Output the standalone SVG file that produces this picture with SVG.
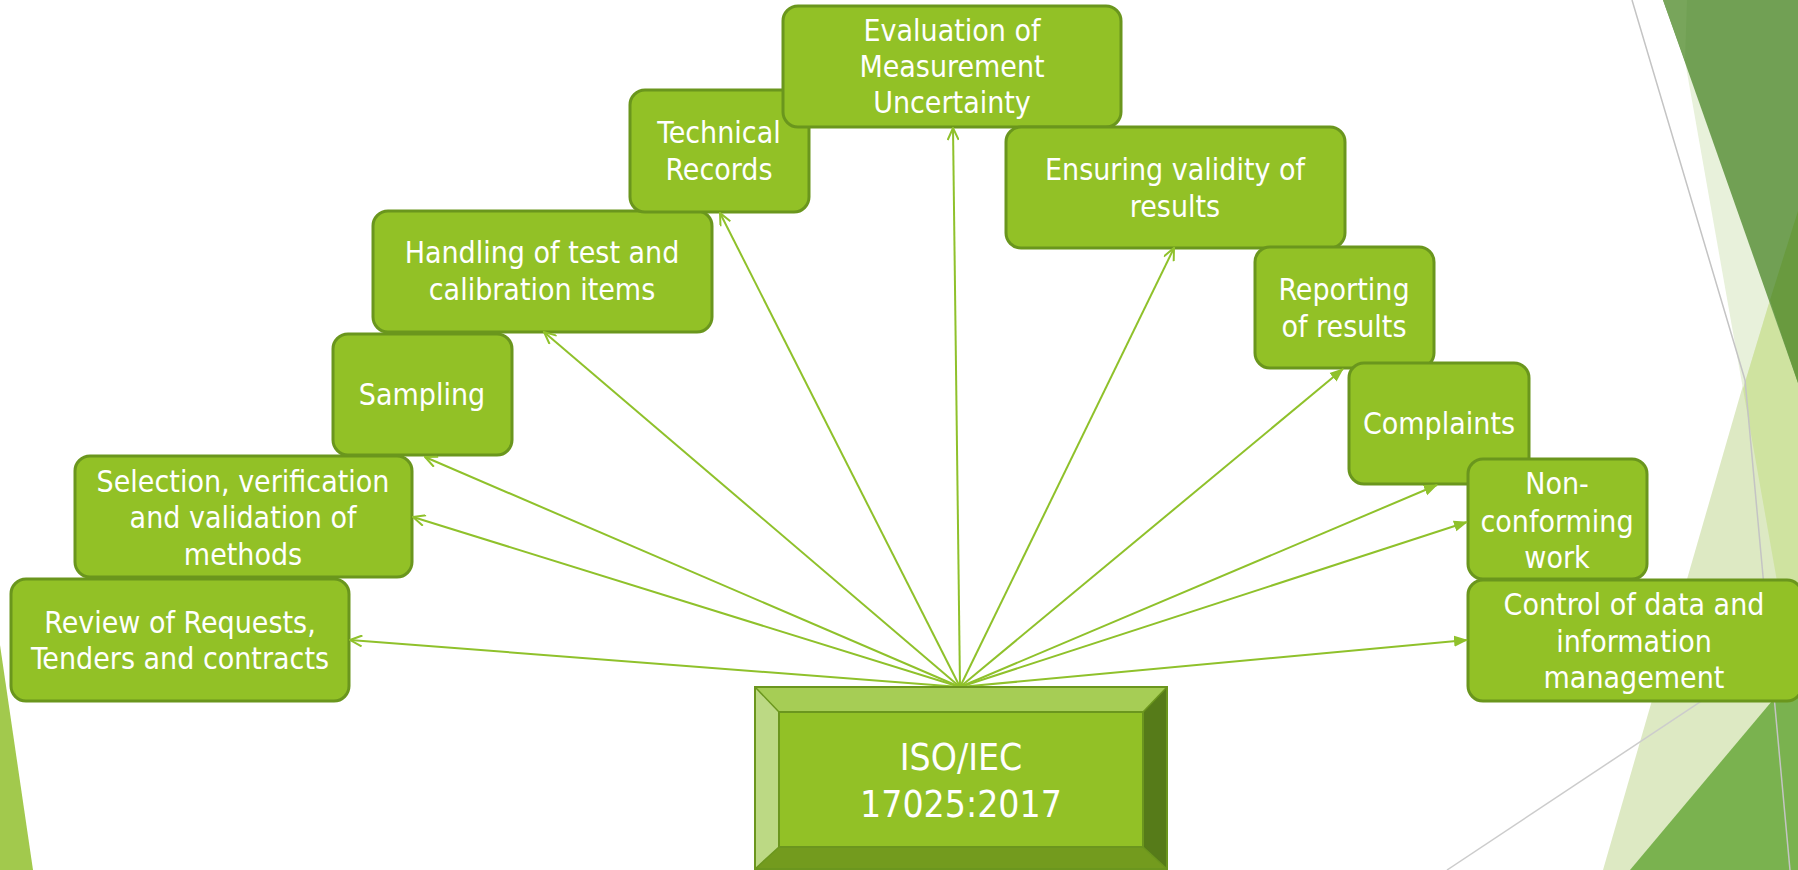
<svg xmlns="http://www.w3.org/2000/svg" width="1798" height="870" viewBox="0 0 1798 870">
  <style>
    .box { fill: #92c126; stroke: #6a961d; stroke-width: 3; }
    .lbl { font-family: "DejaVu Sans Condensed", "DejaVu Sans", sans-serif; font-size: 30px; fill: #ffffff; text-anchor: middle; }
    .hub { font-family: "DejaVu Sans Condensed", "DejaVu Sans", sans-serif; font-size: 37px; fill: #ffffff; text-anchor: middle; }
    .link { stroke: #8fc12b; stroke-width: 2; fill: none; }
    .open { marker-end: url(#arrowOpen); }
    .solid { marker-end: url(#arrowSolid); }
  </style>
  <defs>
    <marker id="arrowOpen" viewBox="0 0 14 12" refX="13" refY="6" markerWidth="14" markerHeight="12" markerUnits="userSpaceOnUse" orient="auto">
      <path d="M1,0.5 L13,6 L1,11.5" fill="none" stroke="#8fc12b" stroke-width="2"/>
    </marker>
    <marker id="arrowSolid" viewBox="0 0 14 12" refX="13" refY="6" markerWidth="14" markerHeight="12" markerUnits="userSpaceOnUse" orient="auto">
      <path d="M0,0.5 L14,6 L0,11.5 Z" fill="#8fc12b"/>
    </marker>
  </defs>

  <rect x="0" y="0" width="1798" height="870" fill="#ffffff"/>

  <!-- facet decoration, right edge -->
  <g id="decor-right">
    <!-- broad pale facet -->
    <polygon points="1798,195 1798,870 1603,870" fill="#dde9c3"/>
    <!-- narrow pale facet and its overlap with the broad one -->
    <polygon points="1685,61 1770,300 1743,389" fill="#e8f1db"/>
    <polygon points="1743,389 1770,300 1798,383 1798,700" fill="#cfe3a0"/>
    <!-- dark facet -->
    <polygon points="1663,0 1798,0 1798,383" fill="#71a054"/>
    <polygon points="1663,0 1687,0 1685,61" fill="#78a55b"/>
    <polygon points="1798,211 1770,300 1798,383" fill="#699a3f"/>
    <!-- medium facet, bottom corner -->
    <polygon points="1798,670 1798,870 1630,870" fill="#7ab24f"/>
    <polyline points="1632,0 1745,380 1790,870" fill="none" stroke="#c4c4c4" stroke-width="1.5"/>
    <line x1="1447" y1="870" x2="1798" y2="637" stroke="#cccccc" stroke-width="1.5"/>
  </g>

  <!-- facet decoration, left edge -->
  <polygon id="decor-left" points="0,645 33,870 0,870" fill="#a2c94d"/>

  <!-- clause boxes -->
  <g id="review">
    <rect class="box" x="11" y="579" width="338" height="122" rx="15"/>
    <text class="lbl" x="180" y="633">Review of Requests,</text>
    <text class="lbl" x="180" y="669">Tenders and contracts</text>
  </g>
  <g id="selection">
    <rect class="box" x="75" y="456" width="337" height="121" rx="15"/>
    <text class="lbl" x="243" y="492">Selection, verification</text>
    <text class="lbl" x="243" y="528">and validation of</text>
    <text class="lbl" x="243" y="565">methods</text>
  </g>
  <g id="sampling">
    <rect class="box" x="333" y="334" width="179" height="121" rx="15"/>
    <text class="lbl" x="422" y="405">Sampling</text>
  </g>
  <g id="handling">
    <rect class="box" x="373" y="211" width="339" height="121" rx="15"/>
    <text class="lbl" x="542" y="263">Handling of test and</text>
    <text class="lbl" x="542" y="300">calibration items</text>
  </g>
  <g id="technical-records">
    <rect class="box" x="630" y="90" width="179" height="122" rx="15"/>
    <text class="lbl" x="719" y="143">Technical</text>
    <text class="lbl" x="719" y="180">Records</text>
  </g>
  <g id="uncertainty">
    <rect class="box" x="783" y="6" width="338" height="121" rx="15"/>
    <text class="lbl" x="952" y="41">Evaluation of</text>
    <text class="lbl" x="952" y="77">Measurement</text>
    <text class="lbl" x="952" y="113">Uncertainty</text>
  </g>
  <g id="validity">
    <rect class="box" x="1006" y="127" width="339" height="121" rx="15"/>
    <text class="lbl" x="1175" y="180">Ensuring validity of</text>
    <text class="lbl" x="1175" y="217">results</text>
  </g>
  <g id="reporting">
    <rect class="box" x="1255" y="247" width="179" height="121" rx="15"/>
    <text class="lbl" x="1344" y="300">Reporting</text>
    <text class="lbl" x="1344" y="337">of results</text>
  </g>
  <g id="complaints">
    <rect class="box" x="1349" y="363" width="180" height="121" rx="15"/>
    <text class="lbl" x="1439" y="434">Complaints</text>
  </g>
  <g id="nonconforming">
    <rect class="box" x="1468" y="459" width="179" height="120" rx="15"/>
    <text class="lbl" x="1557" y="494">Non-</text>
    <text class="lbl" x="1557" y="532">conforming</text>
    <text class="lbl" x="1557" y="568">work</text>
  </g>
  <g id="data-control">
    <rect class="box" x="1468" y="580" width="334" height="121" rx="15"/>
    <text class="lbl" x="1634" y="615">Control of data and</text>
    <text class="lbl" x="1634" y="652">information</text>
    <text class="lbl" x="1634" y="688">management</text>
  </g>

  <!-- connectors from the standard to each clause -->
  <g id="connectors">
    <line class="link open" x1="960" y1="687" x2="350" y2="640"/>
    <line class="link open" x1="960" y1="687" x2="413" y2="517"/>
    <line class="link open" x1="960" y1="687" x2="425" y2="457"/>
    <line class="link open" x1="960" y1="687" x2="544" y2="332"/>
    <line class="link open" x1="960" y1="687" x2="720" y2="213"/>
    <line class="link open" x1="960" y1="687" x2="953" y2="128"/>
    <line class="link open" x1="960" y1="687" x2="1174" y2="248"/>
    <line class="link solid" x1="960" y1="687" x2="1343" y2="369"/>
    <line class="link solid" x1="960" y1="687" x2="1437" y2="485"/>
    <line class="link solid" x1="960" y1="687" x2="1467" y2="522"/>
    <line class="link solid" x1="960" y1="687" x2="1467" y2="640"/>
  </g>

  <!-- bevelled hub -->
  <g id="standard">
    <rect x="755" y="687" width="412" height="182" fill="#92c126"/>
    <polygon points="755,687 1167,687 1143,712 779,712" fill="#a6cd55"/>
    <polygon points="755,687 779,712 779,847 755,869" fill="#bcd984"/>
    <polygon points="1167,687 1167,869 1143,847 1143,712" fill="#567b19"/>
    <polygon points="755,869 1167,869 1143,847 779,847" fill="#739b1e"/>
    <rect x="779" y="712" width="364" height="135" fill="none" stroke="#6b961e" stroke-width="2"/>
    <rect x="755" y="687" width="412" height="182" fill="none" stroke="#6b961e" stroke-width="2"/>
    <line x1="755" y1="687" x2="779" y2="712" stroke="#6b961e" stroke-width="1.5"/>
    <line x1="1167" y1="687" x2="1143" y2="712" stroke="#6b961e" stroke-width="1.5"/>
    <line x1="755" y1="869" x2="779" y2="847" stroke="#6b961e" stroke-width="1.5"/>
    <line x1="1167" y1="869" x2="1143" y2="847" stroke="#6b961e" stroke-width="1.5"/>
    <text class="hub" x="961" y="770">ISO/IEC</text>
    <text class="hub" x="961" y="817">17025:2017</text>
  </g>
</svg>
